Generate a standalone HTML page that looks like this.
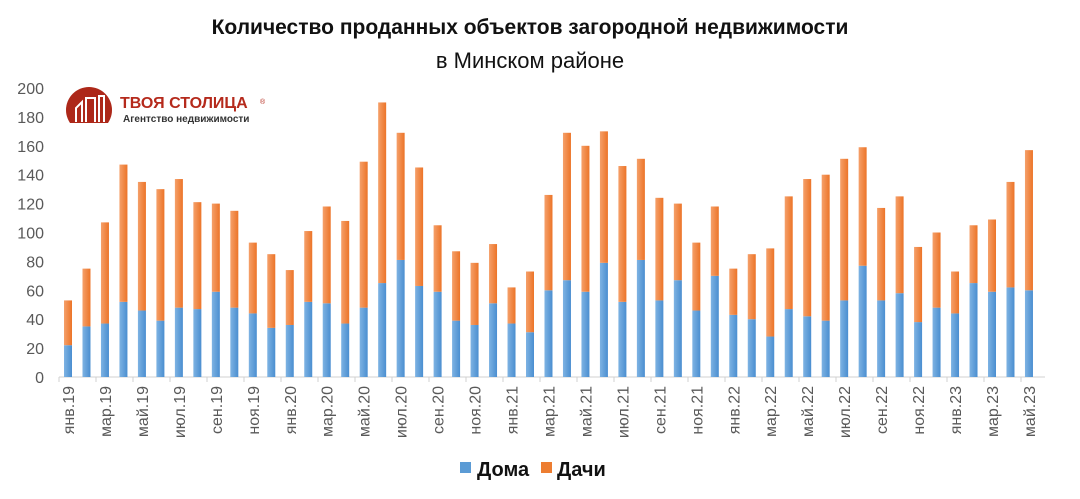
<!DOCTYPE html>
<html><head><meta charset="utf-8"><style>
body{margin:0;background:#fff;width:1080px;height:494px;overflow:hidden}
text{font-family:"Liberation Sans","DejaVu Sans",sans-serif}
</style></head><body>
<svg id="s" width="1080" height="494" xmlns="http://www.w3.org/2000/svg">
<defs>
<linearGradient id="gb" x1="0" x2="1"><stop offset="0" stop-color="#7eb3e3"/><stop offset="1" stop-color="#4a8ed0"/></linearGradient>
<linearGradient id="go" x1="0" x2="1"><stop offset="0" stop-color="#f5a06a"/><stop offset="1" stop-color="#ec7428"/></linearGradient>
<clipPath id="lc"><rect x="50" y="80" width="80" height="43"/></clipPath>
</defs>
<text x="530" y="34" text-anchor="middle" font-size="21" font-weight="bold" fill="#111">Количество проданных объектов загородной недвижимости</text>
<text x="530" y="68" text-anchor="middle" font-size="22" fill="#111">в Минском районе</text>
<g fill="#595959" font-size="16" text-anchor="end" id="yl"></g>
<line x1="59" y1="377" x2="1045" y2="377" stroke="#d0d0d0" stroke-width="1"/>
<g id="bars"></g>
<g id="xl" fill="#595959" font-size="16"></g>
<circle cx="89" cy="110" r="23" fill="#ad2819" clip-path="url(#lc)"/>
<g stroke="#fff" stroke-width="2" fill="none"><path d="M76,122 V108 L82,102 V122 M86,122 V98 H95 V122 M99,122 V96 H104 V122"/></g>
<text x="120" y="108" font-size="16" font-weight="bold" fill="#b52a1c">ТВОЯ СТОЛИЦА</text>
<text x="260" y="104" font-size="7" fill="#b52a1c">®</text>
<text x="123" y="122" font-size="10" font-weight="bold" fill="#333">Агентство недвижимости</text>
<rect x="460" y="462" width="11" height="11" fill="#5b9bd5"/>
<text x="477" y="476" font-size="20" font-weight="bold" fill="#111">Дома</text>
<rect x="541" y="462" width="11" height="11" fill="#ed7d31"/>
<text x="557" y="476" font-size="20" font-weight="bold" fill="#111">Дачи</text>
</svg>
<script>
var t=[53,75,107,147,135,130,137,121,120,115,93,85,74,101,118,108,149,190,169,145,105,87,79,92,62,73,126,169,160,170,146,151,124,120,93,118,75,85,89,125,137,140,151,159,117,125,90,100,73,105,109,135,157];
var d=[22,35,37,52,46,39,48,47,59,48,44,34,36,52,51,37,48,65,81,63,59,39,36,51,37,31,60,67,59,79,52,81,53,67,46,70,43,40,28,47,42,39,53,77,53,58,38,48,44,65,59,62,60];
var m=["янв","фев","мар","апр","май","июн","июл","авг","сен","окт","ноя","дек"];
var k=1.445,b=377,h='',x='',y='';
for(var i=0;i<=10;i++){y+='<text x="44" y="'+(b-i*20*k+6)+'">'+(i*20)+'</text>';}
for(var i=0;i<53;i++){var c=68+i*18.48;
h+='<rect x="'+(c-4)+'" y="'+(b-d[i]*k)+'" width="8" height="'+(d[i]*k)+'" fill="url(#gb)"/>';
h+='<rect x="'+(c-4)+'" y="'+(b-t[i]*k)+'" width="8" height="'+((t[i]-d[i])*k)+'" fill="url(#go)"/>';
if(i%2==0){var lab=m[i%12]+'.'+(19+Math.floor(i/12));
x+='<text transform="translate('+(c+6)+',386) rotate(-90)" text-anchor="end">'+lab+'</text>';}
}
var tk='';for(var i=0;i<=26;i++){var xx=59+i*37;tk+='<line x1="'+xx+'" y1="377" x2="'+xx+'" y2="382" stroke="#d0d0d0"/>';}
document.getElementById('yl').innerHTML=y;
document.getElementById('bars').innerHTML=h+tk;
document.getElementById('xl').innerHTML=x;
</script>
</body></html>
